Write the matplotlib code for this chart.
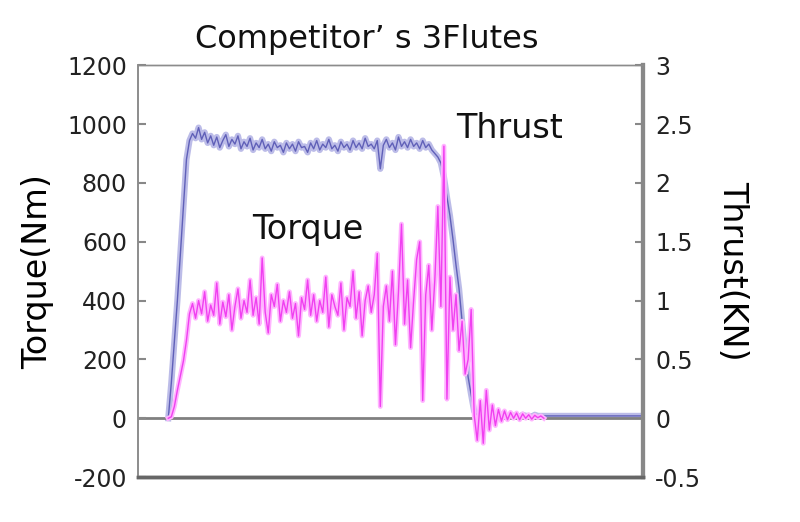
import matplotlib
matplotlib.use("Agg")
import matplotlib.pyplot as plt
import numpy as np

# sampled every 0.3 s from 3.0 s
t_start = 3.0
sample_dt = 0.3

torque_nm = [
    0, 5, 40, 95, 145, 195, 265, 355,
    390, 340, 400, 355, 430, 330, 385, 350, 460, 320,
    395, 345, 420, 300, 380, 440, 340, 400, 360, 470,
    350, 410, 320, 545, 360, 290, 420, 380, 455, 330,
    400, 360, 430, 340, 390, 280, 410, 370, 470, 350,
    420, 330, 400, 360, 480, 310, 420, 380, 350, 460,
    300, 410, 380, 500, 340, 430, 280, 400, 450, 360,
    420, 560, 40, 380, 450, 330, 500, 250, 430, 660,
    320, 470, 240, 400, 540, 600, 60, 420, 520, 300,
    470, 720, 380, 925, 65, 480, 300, 420, 230, 330,
    150, 200, 370, 10, -75, 60, -85, 95, -40, 45,
    -25, 30, -10, 25, -5, 20, 0, 18, -5, 15,
    0, 12, -3, 10, 2, 8, 0,
]

thrust_kn = [
    0.0, 0.3, 0.65, 1.0, 1.4, 1.8, 2.2, 2.36,
    2.42, 2.38, 2.47, 2.37, 2.43, 2.34, 2.40, 2.32, 2.39, 2.30,
    2.36, 2.41, 2.31, 2.37, 2.33, 2.40, 2.29, 2.35, 2.31, 2.38,
    2.28, 2.34, 2.30, 2.37, 2.29, 2.33, 2.27, 2.35, 2.30, 2.32,
    2.26, 2.34, 2.29, 2.33, 2.27, 2.35, 2.30, 2.31, 2.26, 2.34,
    2.29, 2.36, 2.28, 2.33, 2.30, 2.37, 2.29, 2.32, 2.27, 2.35,
    2.30, 2.33, 2.28, 2.36, 2.30, 2.34, 2.29, 2.38, 2.31, 2.33,
    2.29, 2.36, 2.12, 2.32, 2.37, 2.30, 2.34, 2.28, 2.39, 2.31,
    2.35, 2.30, 2.37, 2.31, 2.34, 2.29, 2.36, 2.30, 2.33, 2.28,
    2.25, 2.22, 2.17, 2.05, 1.88, 1.72, 1.52, 1.30, 1.10, 0.82,
    0.55, 0.35, 0.20, 0.06, 0.02, 0.03, 0.01, 0.03, 0.02, 0.03,
    0.01, 0.02, 0.03, 0.02, 0.01, 0.03, 0.02, 0.02, 0.01, 0.03,
    0.02, 0.02, 0.01, 0.03, 0.02, 0.02, 0.02,
]

# thrust stays at the zero level until the end of the record
tail_time = [42.0, 46.0, 50.0]
tail_thrust = [0.02, 0.02, 0.02]

torque_ticks = [-200, 0, 200, 400, 600, 800, 1000, 1200]
thrust_ticks = [-0.5, 0, 0.5, 1, 1.5, 2, 2.5, 3]
thrust_tick_labels = ["-0.5", "0", "0.5", "1", "1.5", "2", "2.5", "3"]

time_s = t_start + sample_dt * np.arange(len(torque_nm))
thrust_time = np.concatenate([time_s, tail_time])
thrust_all = np.concatenate([thrust_kn, tail_thrust])

plt.rcParams['font.family'] = ['DejaVu Sans']
plt.rcParams['axes.unicode_minus'] = False

fig = plt.figure(figsize=(8, 5.22), dpi=100)
ax = fig.add_axes([0.1725, 0.086, 0.631, 0.789])
ax2 = ax.twinx()

ax.axhline(0, color='#808080', lw=2, zorder=1)

# thrust (right axis)
ax2.plot(thrust_time, thrust_all, color='#bcbce8', lw=4.5)
ax2.plot(thrust_time, thrust_all, color='#6060b8', lw=1.0)

# torque (left axis) drawn above thrust
ax.plot(time_s, torque_nm, color='#ffb4ff', lw=3.5, zorder=3)
ax.plot(time_s, torque_nm, color='#f040f0', lw=1.0, zorder=4)
ax.set_zorder(ax2.get_zorder() + 1)
ax.patch.set_visible(False)

ax.set_xlim(0, 50)
ax.set_ylim(-200, 1200)
ax2.set_ylim(-0.5, 3)
ax.set_xticks([])
ax.set_yticks(torque_ticks)
ax2.set_yticks(thrust_ticks)
ax2.set_yticklabels(thrust_tick_labels)

for a in (ax, ax2):
    a.tick_params(axis='y', direction='in', length=6, width=1.5, color='#888888',
                  labelsize=17, labelcolor='#222222')
ax.tick_params(axis='y', pad=8)
ax2.tick_params(axis='y', pad=9)

for a in (ax, ax2):
    a.spines['left'].set_color('#8c8c8c')
    a.spines['left'].set_linewidth(1.2)
    a.spines['top'].set_color('#8c8c8c')
    a.spines['top'].set_linewidth(1.0)
    a.spines['right'].set_color('#888888')
    a.spines['right'].set_linewidth(3)
    a.spines['bottom'].set_color('#666666')
    a.spines['bottom'].set_linewidth(2.5)

ax.set_ylabel('Torque(Nm)', fontsize=24, labelpad=9)
ax2.set_ylabel('Thrust(KN)', fontsize=24, rotation=270, labelpad=34)

ax.text(36.8, 952, 'Thrust', fontsize=24, ha='center', va='baseline', color='#111111')
ax.text(16.8, 610, 'Torque', fontsize=24, ha='center', va='baseline', color='#111111')

fig.text(0.458, 0.908, 'Competitor’ s 3Flutes', fontsize=23, ha='center', va='baseline',
         color='#111111')

fig.savefig('out.png', dpi=100, facecolor='white')
